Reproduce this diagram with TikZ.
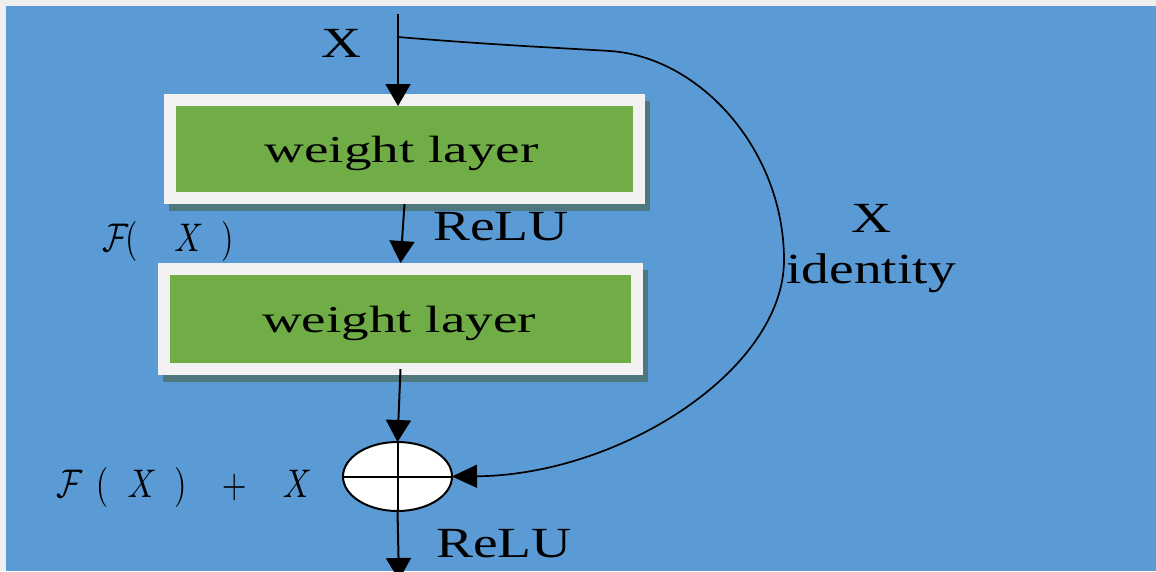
\documentclass[tikz,border=0pt]{standalone}
\usepackage{fontspec}
\setmainfont{Liberation Serif}
\usepackage{graphicx}
\usetikzlibrary{arrows.meta,shapes.geometric}

\definecolor{edgec}{HTML}{EFEFEF}
\definecolor{bgblue}{HTML}{5B9BD5}
\definecolor{lgreen}{HTML}{70AD47}
\definecolor{framec}{HTML}{F2F2F2}
\definecolor{shadowc}{RGB}{78,120,126}

% wide serif labels and compressed math labels
\newcommand{\widetxt}[1]{\scalebox{1.29}[1]{\fontsize{43}{50}\selectfont #1}}
\newcommand{\layertxt}[1]{\scalebox{1.45}[1]{\fontsize{38}{44}\selectfont #1}}
\newcommand{\mathtxt}[1]{\scalebox{3.2}[4]{$#1$}}

\begin{document}
\begin{tikzpicture}[x=1pt,y=-1pt,
  arr/.style={line width=2pt,-{Triangle[width=25pt,length=22pt]}},
  layer/.style={rectangle, fill=lgreen, inner sep=0pt, outer sep=0pt,
    preaction={draw=shadowc, fill=shadowc, line width=24pt,
      transform canvas={shift={(5pt,-7pt)}}},
    preaction={draw=framec, line width=24pt}},
  lbl/.style={inner sep=0pt, anchor=base}
]
\clip (0,0) rectangle (1156,571);
\fill[edgec] (0,0) rectangle (1156,571);
\fill[bgblue] (6,6) rectangle (1156,571);

% two weight layers
\node[layer, minimum width=457pt, minimum height=86pt] (w1) at (404.5,149) {};
\node[layer, minimum width=461pt, minimum height=88pt] (w2) at (400.5,319) {};
\node[lbl] (t1) at (401.5,162) {\layertxt{weight layer}};
\node[lbl] (t2) at (399,332) {\layertxt{weight layer}};

% addition node
\node[ellipse, draw, line width=2pt, fill=white, inner sep=0pt, outer sep=0pt,
  minimum width=109pt, minimum height=69pt] (sum) at (397.5,476.5) {};
\draw[line width=2pt] (sum.north) -- (sum.south) (sum.west) -- (sum.east);

% input and output points
\coordinate (in) at (398,14);
\coordinate (split) at (398,37);
\coordinate (out) at (399,580);

% main path
\draw[arr] (in) -- (in |- w1.north);
\draw[arr] ([yshift=-12pt]w1.south) -- ([yshift=12pt]w2.north);
\draw[arr] ([yshift=-6pt]w2.south) -- (sum.north);
\draw[arr] (sum.south) -- (out);

% identity shortcut
\draw[line width=1.7pt,-{Triangle[width=23pt,length=25pt]}]
  (split) .. controls (480,44) and (560,48) .. (610,51)
  .. controls (700,57) and (784,150) .. (784,260)
  .. controls (784,370) and (620,475) .. (sum.east);

% labels
\node[lbl] (xin) at (342,57) {\widetxt{X}};
\node[lbl] (relu1) at (501,240) {\widetxt{ReLU}};
\node[lbl] (xid) at (872,232) {\widetxt{X}};
\node[lbl] (ident) at (871,283) {\widetxt{identity}};
\node[lbl] (relu2) at (504,557) {\widetxt{ReLU}};
\node[inner sep=0pt, anchor=base west] (fx) at (102,251)
  {\mathtxt{\mathcal{F}\hspace{-1pt}(\hspace{11.5pt}X\hspace{5.5pt})}};
\node[inner sep=0pt, anchor=base west] (fxx) at (56,497)
  {\mathtxt{\mathcal{F}\hspace{4.25pt}(\hspace{6pt}X\hspace{5.5pt})\hspace{11pt}{+}\hspace{11.25pt}X}};
\end{tikzpicture}
\end{document}
